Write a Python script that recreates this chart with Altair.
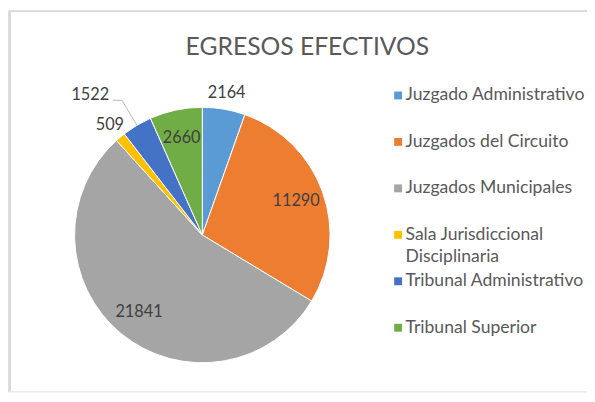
import altair as alt
import pandas as pd

# ---- data ----
categories = [
    "Juzgado Administrativo",
    "Juzgados del Circuito",
    "Juzgados Municipales",
    "Sala Jurisdiccional Disciplinaria",
    "Tribunal Administrativo",
    "Tribunal Superior",
]
values = [2164, 11290, 21841, 509, 1522, 2660]
legend_labels = [
    "Juzgado Administrativo",
    "Juzgados del Circuito",
    "Juzgados Municipales",
    "Sala Jurisdiccional\nDisciplinaria",
    "Tribunal Administrativo",
    "Tribunal Superior",
]
label_place = ["outside", "inside", "inside", "outside", "leader", "inside"]
colors = ["#5B9BD5", "#ED7D31", "#A5A5A5", "#FFC000", "#4472C4", "#70AD47"]

df = pd.DataFrame({
    "category": categories,
    "value": values,
    "legend": legend_labels,
    "place": label_place,
})
df["k"] = list(range(len(df)))

FONT = "Lato"
W, H = 587, 386
CX, CY, R = 197, 227.5, 129.5

color_scale = alt.Scale(domain=categories, range=colors)

base = alt.Chart(df).encode(
    theta=alt.Theta("value:Q", stack=True),
    order=alt.Order("k:Q"),
)

pie = base.mark_arc(x=CX, y=CY, outerRadius=R, stroke="white", strokeWidth=1).encode(
    color=alt.Color("category:N", scale=color_scale, legend=None)
)

inside = base.transform_calculate(
    lab="datum.place == 'inside' ? format(datum.value, 'd') : ''"
).mark_text(x=CX, y=CY, radius=101, font=FONT, fontSize=16.5, color="#404040").encode(
    text="lab:N"
)

outside = base.transform_calculate(
    lab="datum.place == 'outside' ? format(datum.value, 'd') : ''"
).mark_text(x=CX, y=CY, radius=146, font=FONT, fontSize=16.5, color="#404040").encode(
    text="lab:N"
)

lead = alt.Chart(df).transform_joinaggregate(
    total="sum(value)"
).transform_window(
    cum="sum(value)", sort=[alt.SortField("k")], frame=[None, 0]
).transform_calculate(
    a="(datum.cum - datum.value / 2) / datum.total * 2 * PI"
).transform_calculate(
    xa=f"{CX} + {R} * sin(datum.a)",
    ya=f"{CY} - {R} * cos(datum.a)",
    xb=f"{CX} + 159 * sin(datum.a)",
    yb=f"{CY} - 159 * cos(datum.a)",
).transform_calculate(
    xc="datum.xb - 9"
).transform_filter("datum.place == 'leader'")

seg1 = lead.mark_rule(color="#a6a6a6", strokeWidth=0.8).encode(
    x=alt.X("xa:Q", scale=None, axis=None),
    y=alt.Y("ya:Q", scale=None, axis=None),
    x2="xb:Q",
    y2="yb:Q",
)
seg2 = lead.mark_rule(color="#a6a6a6", strokeWidth=0.8).encode(
    x=alt.X("xb:Q", scale=None, axis=None),
    y=alt.Y("yb:Q", scale=None, axis=None),
    x2="xc:Q",
)
lead_lab = lead.mark_text(
    align="right", baseline="middle", dx=-13, dy=-5, font=FONT, fontSize=16.5, color="#404040"
).encode(
    x=alt.X("xb:Q", scale=None, axis=None),
    y=alt.Y("yb:Q", scale=None, axis=None),
    text="value:Q",
)

leg_y = alt.Y(
    "category:N",
    scale=alt.Scale(type="point", domain=categories, range=[86, 321.5], padding=0),
    axis=None,
)
leg_sq = alt.Chart(df).mark_square(size=64, x=395.5, opacity=1).encode(
    y=leg_y, color=alt.Color("category:N", scale=color_scale, legend=None)
)
leg_tx = alt.Chart(df).mark_text(
    x=403, align="left", baseline="middle", lineBreak="\n",
    font=FONT, fontSize=17.8, color="#595959", lineHeight=23,
).encode(y=leg_y, text="legend:N")

frame_df = pd.DataFrame({"f": [0]})
top_line = alt.Chart(frame_df).mark_rule(color="#d9d9d9", strokeWidth=2).encode(
    x=alt.value(1), x2=alt.value(W), y=alt.value(0.5)
)
left_line = alt.Chart(frame_df).mark_rule(color="#d9d9d9", strokeWidth=2).encode(
    x=alt.value(2), y=alt.value(0), y2=alt.value(H)
)

chart = alt.layer(
    top_line, left_line, pie, inside, outside, seg1, seg2, lead_lab, leg_sq, leg_tx
).properties(
    width=W,
    height=H,
    autosize=alt.AutoSizeParams(type="none"),
    padding=0,
    title=alt.TitleParams(
        "EGRESOS EFECTIVOS",
        font=FONT, fontSize=25, fontWeight="normal", color="#595959",
        anchor="middle", baseline="alphabetic", offset=0, dx=10, dy=71,
    ),
).configure_view(stroke=None).configure(background="white")

chart.save("out.html", embed_options={"renderer": "svg", "actions": False})
